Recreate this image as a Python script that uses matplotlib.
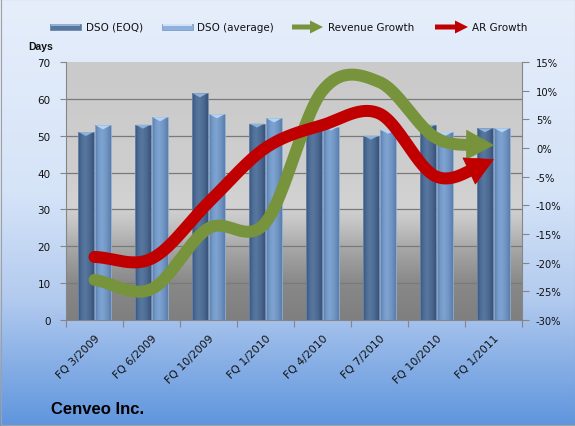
import numpy as np
import matplotlib
matplotlib.use("Agg")
import matplotlib.pyplot as plt
from matplotlib.patches import Polygon, Rectangle, FancyArrow
from matplotlib.colors import to_rgb
from matplotlib.transforms import Affine2D

# ---------------- data ----------------
categories = ["FQ 3/2009", "FQ 6/2009", "FQ 10/2009", "FQ 1/2010",
              "FQ 4/2010", "FQ 7/2010", "FQ 10/2010", "FQ 1/2011"]
dso_eoq = [51.0, 53.0, 61.5, 53.3, 52.0, 50.0, 53.0, 52.0]
dso_avg = [52.8, 55.0, 55.8, 54.7, 52.5, 51.6, 51.0, 52.0]
revenue_growth = [-23.0, -24.6, -14.0, -13.0, 10.0, 11.5, 1.7, 0.5]
ar_growth = [-19.0, -19.3, -9.5, 0.0, 4.0, 6.0, -5.0, -2.0]
days_ticks = [0, 10, 20, 30, 40, 50, 60, 70]
pct_ticks = [-30, -25, -20, -15, -10, -5, 0, 5, 10, 15]

W, H = 575, 427
fig = plt.figure(figsize=(W / 100, H / 100), dpi=100)
pxT = Affine2D().scale(1, -1).translate(0, H) + Affine2D().scale(1 / 100.0) + fig.dpi_scale_trans


def vgrad(stops, n=256):
    pos = np.array([s[0] for s in stops])
    cols = np.array([to_rgb(s[1]) for s in stops])
    t = np.linspace(0, 1, n)
    arr = np.stack([np.interp(t, pos, cols[:, k]) for k in range(3)], axis=-1)
    return arr


# figure background
bg = fig.add_axes([0, 0, 1, 1], zorder=-10)
bg.axis("off")
bgarr = vgrad([(0, "#e6eefb"), (0.45, "#d6e4f8"), (0.7, "#b3cbef"), (1.0, "#5f95dd")])[:, None, :]
bg.imshow(bgarr, aspect="auto", extent=[0, 1, 0, 1], interpolation="bilinear")
bg.set_xlim(0, 1)
bg.set_ylim(0, 1)
fig.add_artist(Rectangle((0.5, 0.5), W - 1, H - 1, transform=pxT, fill=False,
                         ec="#a0a0a0", lw=0.8))

# main axes
ax = fig.add_axes([66 / W, (H - 321) / H, 456 / W, 258 / H])
ax.patch.set_visible(False)
parr = vgrad([(0, "#cacaca"), (0.42, "#cecece"), (0.56, "#d3d3d3"), (0.63, "#c3c3c3"),
              (0.73, "#a5a5a5"), (0.86, "#888888"), (1.0, "#7f7f7f")])[:, None, :]
ax.imshow(parr, aspect="auto", extent=[0, 1, 0, 1], transform=ax.transAxes,
          zorder=0, interpolation="bilinear")

x = np.arange(len(categories))
bw = 0.28
off = 0.15
b1 = ax.bar(x - off, dso_eoq, bw, color="#4b6a93", zorder=2, linewidth=0)
b2 = ax.bar(x + off, dso_avg, bw, color="#7096c4", zorder=2, linewidth=0)

g1 = vgrad([(0, "#3a5479"), (0.25, "#4f6f99"), (0.45, "#58789f"), (0.75, "#4a6890"), (1, "#39527a")])[None, :, :]
g2 = vgrad([(0, "#5a7ead"), (0.25, "#759bca"), (0.45, "#7fa4d1"), (0.75, "#6f94c2"), (1, "#5a7dab")])[None, :, :]
depth = 4 * 70 / 258.0
for bars, g, cap, edge in [(b1, g1, "#8fb2d8", "#6d88ad"), (b2, g2, "#b6d4f1", "#8fabd0")]:
    for b in bars:
        x0, w, h = b.get_x(), b.get_width(), b.get_height()
        im = ax.imshow(g, aspect="auto", extent=[x0, x0 + w, 0, h], zorder=2.1,
                       interpolation="bilinear")
        im.set_clip_path(b)
        ax.add_patch(Rectangle((x0, 0), w, h, fill=False, ec=edge, lw=0.6, zorder=2.2))
        ax.add_patch(Polygon([(x0 + 0.01, h), (x0 + w - 0.01, h), (x0 + w / 2, h - depth)],
                             closed=True, fc=cap, ec="none", zorder=2.3))

ax.set_xlim(-0.5, len(categories) - 0.5)
ax.set_ylim(0, 70)
ax.set_yticks(days_ticks)
ax.set_yticklabels([str(v) for v in days_ticks])
ax.set_axisbelow(True)
ax.yaxis.grid(True, color="#7a7a7a", lw=0.9)
gl = ax.yaxis.get_gridlines()
gl[0].set_visible(False)
gl[-1].set_visible(False)
ax.set_xticks(np.arange(-0.5, len(categories), 1.0))
ax.set_xticklabels([])
ax.set_xticks(x, minor=True)
ax.set_xticklabels(categories, minor=True, rotation=45, ha="right",
                   rotation_mode="anchor", fontsize=7.8, color="#111111")
ax.tick_params(axis="x", which="major", direction="out", length=5, color="#868686")
ax.tick_params(axis="x", which="minor", length=0, pad=9)
ax.tick_params(axis="y", direction="out", length=4, color="#868686", labelsize=7.5,
               labelcolor="#111111", pad=7)
for s in ["top", "right"]:
    ax.spines[s].set_visible(False)
for s in ["left", "bottom"]:
    ax.spines[s].set_color("#868686")
ax.set_autoscale_on(False)

ax2 = ax.twinx()
ax2.set_ylim(-30, 15)
ax2.set_yticks(pct_ticks)
ax2.set_yticklabels([f"{v}%" for v in pct_ticks])
ax2.tick_params(axis="y", direction="out", length=5, color="#868686", labelsize=7.2,
                labelcolor="#111111", pad=5)
for s in ["top", "left", "bottom"]:
    ax2.spines[s].set_visible(False)
ax2.spines["right"].set_color("#868686")
ax2.set_autoscale_on(False)
ax.set_xlim(-0.5, len(categories) - 0.5)


def smooth_display(axis, xs, ys, n=40):
    P = axis.transData.transform(np.column_stack([xs, ys]))
    Q = np.vstack([2 * P[0] - P[1], P, 2 * P[-1] - P[-2]])
    t = np.linspace(0, 1, n, endpoint=False)[:, None]
    segs = []
    for i in range(1, len(Q) - 2):
        p0, p1, p2, p3 = Q[i - 1], Q[i], Q[i + 1], Q[i + 2]
        c1 = p1 + (p2 - p0) / 6.0
        c2 = p2 - (p3 - p1) / 6.0
        B = (1 - t) ** 3 * p1 + 3 * (1 - t) ** 2 * t * c1 + 3 * (1 - t) * t ** 2 * c2 + t ** 3 * p2
        segs.append(B)
    segs.append(P[-1][None, :])
    return np.vstack(segs)


def arrow_series(axis, xs, ys, color, lw_px=12, head_len=27, head_w=29):
    D = smooth_display(axis, xs, ys)
    tip = D[-1]
    R = D[::-1]
    dist = np.r_[0, np.cumsum(np.hypot(*np.diff(R, axis=0).T))]
    idx = int(np.searchsorted(dist, head_len))
    f = (head_len - dist[idx - 1]) / (dist[idx] - dist[idx - 1])
    base = R[idx - 1] + f * (R[idx] - R[idx - 1])
    shaft = np.vstack([D[:len(D) - idx], base])
    d = (tip - base) / np.hypot(*(tip - base))
    nrm = np.array([-d[1], d[0]])
    head = np.array([tip, base + nrm * head_w / 2, base - nrm * head_w / 2])
    inv = axis.transData.inverted()
    sd = inv.transform(shaft)
    hd = inv.transform(head)
    axis.plot(sd[:, 0], sd[:, 1], color=color, lw=lw_px * 0.72,
              solid_capstyle="round", solid_joinstyle="round", zorder=3)
    axis.add_patch(Polygon(hd, closed=True, fc=color, ec=color, lw=0.5, zorder=3))


arrow_series(ax2, x, revenue_growth, "#77933c")
arrow_series(ax2, x, ar_growth, "#c00000")
ax2.set_ylim(-30, 15)

# legend (manual)
fig.add_artist(Rectangle((50, 25), 31, 6, transform=pxT, fc="#56779f", ec="#6d87a8", lw=0.6))
fig.add_artist(Rectangle((51, 25.5), 29, 1.6, transform=pxT, fc="#93b1d6", ec="none"))
fig.text(85.5, 28, "DSO (EOQ)", transform=pxT, fontsize=7.5, va="center", ha="left", color="#111111")
fig.add_artist(Rectangle((162, 25), 31, 6, transform=pxT, fc="#8db0dc", ec="#7f9dc6", lw=0.6))
fig.add_artist(Rectangle((163, 25.5), 29, 1.6, transform=pxT, fc="#d0e2f6", ec="none"))
fig.text(197, 28, "DSO (average)", transform=pxT, fontsize=7.5, va="center", ha="left", color="#111111")
fig.add_artist(FancyArrow(292, 28, 31, 0, width=5, head_width=13, head_length=13,
                          length_includes_head=True, transform=pxT, fc="#77933c", ec="none"))
fig.text(328, 28, "Revenue Growth", transform=pxT, fontsize=7.5, va="center", ha="left", color="#111111")
fig.add_artist(FancyArrow(435, 28, 33, 0, width=5, head_width=13, head_length=13,
                          length_includes_head=True, transform=pxT, fc="#c00000", ec="none"))
fig.text(472, 28, "AR Growth", transform=pxT, fontsize=7.5, va="center", ha="left", color="#111111")

fig.text(41, 47, "Days", transform=pxT, fontsize=7.5, fontweight="bold", family="Liberation Sans",
         va="center", ha="center", color="#111111")
fig.text(51, 410, "Cenveo Inc.", transform=pxT, fontsize=12, fontweight="bold",
         family="Liberation Sans", va="center", ha="left", color="#000000")

fig.savefig("out.png", dpi=100)
